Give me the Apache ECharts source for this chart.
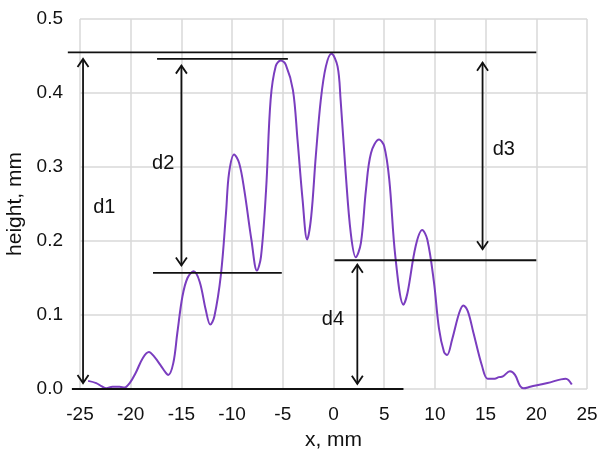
<!DOCTYPE html>
<html>
<head>
<meta charset="utf-8">
<script src="https://cdn.jsdelivr.net/npm/echarts@6/dist/echarts.min.js"></script>
<style>
  html, body { margin: 0; padding: 0; background: #fff; }
  #chart { width: 598px; height: 459px; }
</style>
</head>
<body>
<div id="chart"></div>
<script>
// Surface profile: position along the sample (mm) and measured height (mm)
const positions = [
  -24.2, -23.4, -22.9, -22.4, -21.8, -21.1, -20.6, -20.1, -19.5, -18.8,
  -18.2, -17.7, -17.0, -16.6, -16.3, -15.8, -15.4, -14.9, -14.4, -13.8,
  -13.2, -12.6, -12.15, -11.75, -11.1, -10.6, -10.3, -9.8, -9.3, -8.8,
  -8.1, -7.55, -7.15, -6.65, -6.2, -5.7, -5.2, -4.7, -4.0, -3.55,
  -3.05, -2.6, -2.2, -1.75, -1.25, -0.75, -0.2, 0.4, 0.7, 1.2,
  1.7, 2.2, 2.7, 3.2, 3.7, 4.5, 5.0, 5.5, 6.1, 6.9,
  7.3, 8.1, 8.75, 9.25, 9.9, 10.4, 10.9, 11.2, 11.7, 12.4,
  12.8, 13.25, 13.8, 14.65, 15.2, 15.9, 16.3, 16.7, 17.4, 17.9,
  18.4, 18.75, 19.4, 21.1, 22.9, 23.5
];
const heights = [
  0.011, 0.008, 0.004, 0.001, 0.003, 0.003, 0.002, 0.008, 0.022, 0.042,
  0.050, 0.044, 0.031, 0.023, 0.019, 0.035, 0.076, 0.125, 0.150, 0.159,
  0.145, 0.107, 0.087, 0.098, 0.155, 0.238, 0.292, 0.317, 0.305, 0.269,
  0.202, 0.160, 0.179, 0.269, 0.391, 0.436, 0.444, 0.438, 0.404, 0.337,
  0.256, 0.202, 0.233, 0.314, 0.391, 0.436, 0.453, 0.436, 0.391, 0.292,
  0.211, 0.178, 0.197, 0.269, 0.319, 0.337, 0.328, 0.283, 0.179, 0.114,
  0.130, 0.193, 0.215, 0.202, 0.145, 0.082, 0.050, 0.046, 0.067, 0.103,
  0.113, 0.105, 0.076, 0.031, 0.014, 0.014, 0.016, 0.017, 0.024, 0.019,
  0.004, 0.001, 0.003, 0.008, 0.014, 0.006
];

// Reference levels: [x start, x end, height]
const levelLines = [
  [-26.2, 20.0, 0.455],
  [-17.4, -4.5, 0.446],
  [-17.8, -5.1, 0.157],
  [0.1, 20.0, 0.174],
  [-25.8, 6.9, 0.0]
];

// Dimension arrows: [x, upper tip, lower tip]
const dimArrows = [
  [-24.7, 0.446, 0.008],
  [-15.0, 0.437, 0.167],
  [14.7, 0.441, 0.189],
  [2.35, 0.168, 0.007]
];

// Dimension names and where they sit
const dimNames = ['d1', 'd2', 'd3', 'd4'];
const dimNameX = [-22.6, -16.8, 16.8, -0.05];
const dimNameY = [0.245, 0.305, 0.323, 0.094];

const xTicks = { min: -25, max: 25, step: 5 };
const yTicks = { min: 0, max: 0.5, step: 0.1 };

const ink = '#111';
const gridGray = '#d9d9d9';
const textFont = 'Arial, "Liberation Sans", sans-serif';

const chart = echarts.init(document.getElementById('chart'), null, { renderer: 'canvas' });

const profile = positions.map((x, i) => [x, heights[i]]);
const labelData = dimNames.map((n, i) => [dimNameX[i], dimNameY[i], n]);

chart.setOption({
  animation: false,
  backgroundColor: '#fff',
  grid: { left: 80, right: 11, top: 19, bottom: 70, containLabel: false, outerBoundsMode: 'none' },
  xAxis: {
    type: 'value',
    min: xTicks.min, max: xTicks.max, interval: xTicks.step,
    name: 'x, mm', nameLocation: 'middle', nameGap: 41,
    nameTextStyle: { color: ink, fontSize: 21, fontFamily: textFont },
    axisLine: { show: false },
    axisTick: { show: false },
    axisLabel: { color: ink, fontSize: 19, fontFamily: textFont, margin: 16 },
    splitLine: { show: true, lineStyle: { color: gridGray, width: 1.5 } }
  },
  yAxis: {
    type: 'value',
    min: yTicks.min, max: yTicks.max, interval: yTicks.step,
    name: 'height, mm', nameLocation: 'middle', nameGap: 51, nameRotate: 90,
    nameTextStyle: { color: ink, fontSize: 21, fontFamily: textFont },
    axisLine: { show: false },
    axisTick: { show: false },
    axisLabel: { color: ink, fontSize: 19, fontFamily: textFont, margin: 17,
      formatter: v => v.toFixed(1) },
    splitLine: { show: true, lineStyle: { color: gridGray, width: 1.5 } }
  },
  series: [
    {
      name: 'profile',
      type: 'line',
      data: profile,
      smooth: 0.35,
      showSymbol: false,
      lineStyle: { color: '#7a3dbf', width: 2 },
      z: 3
    },
    {
      name: 'levels',
      type: 'custom',
      clip: false,
      data: levelLines,
      renderItem: (params, api) => {
        const a = api.coord([api.value(0), api.value(2)]);
        const b = api.coord([api.value(1), api.value(2)]);
        return {
          type: 'line',
          shape: { x1: a[0], y1: a[1], x2: b[0], y2: b[1] },
          style: { stroke: ink, lineWidth: 1.8 }
        };
      },
      z: 4
    },
    {
      name: 'arrows',
      type: 'custom',
      clip: false,
      data: dimArrows,
      renderItem: (params, api) => {
        const top = api.coord([api.value(0), api.value(1)]);
        const bot = api.coord([api.value(0), api.value(2)]);
        const hw = 5.5, hl = 8;
        const st = { stroke: ink, lineWidth: 1.8, fill: null };
        return {
          type: 'group',
          children: [
            { type: 'line', shape: { x1: top[0], y1: top[1], x2: bot[0], y2: bot[1] }, style: st },
            { type: 'polyline', shape: { points: [[top[0] - hw, top[1] + hl], [top[0], top[1]], [top[0] + hw, top[1] + hl]] }, style: st },
            { type: 'polyline', shape: { points: [[bot[0] - hw, bot[1] - hl], [bot[0], bot[1]], [bot[0] + hw, bot[1] - hl]] }, style: st }
          ]
        };
      },
      z: 4
    },
    {
      name: 'dimension names',
      type: 'custom',
      clip: false,
      data: labelData,
      renderItem: (params, api) => {
        const p = api.coord([api.value(0), api.value(1)]);
        return {
          type: 'text',
          x: p[0], y: p[1],
          style: {
            text: dimNames[params.dataIndex],
            fill: ink,
            font: '20px ' + textFont,
            textAlign: 'center',
            textVerticalAlign: 'middle'
          }
        };
      },
      z: 5
    }
  ]
});
</script>
</body>
</html>
